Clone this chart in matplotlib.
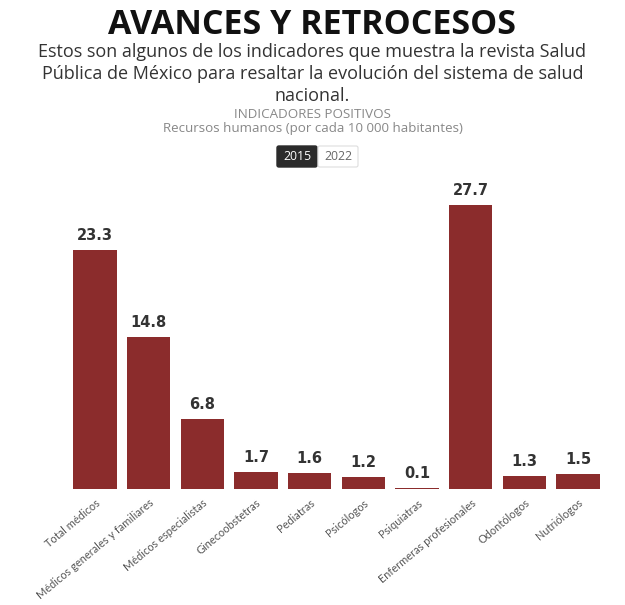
import matplotlib
matplotlib.use("Agg")
import matplotlib.pyplot as plt
from matplotlib.patches import FancyBboxPatch

categories = ["Total médicos", "Médicos generales y familiares", "Médicos especialistas",
              "Ginecoobstetras", "Pediatras", "Psicólogos", "Psiquiatras",
              "Enfermeras profesionales", "Odontólogos", "Nutriólogos"]
values = [23.3, 14.8, 6.8, 1.7, 1.6, 1.2, 0.1, 27.7, 1.3, 1.5]
value_labels = ["23.3", "14.8", "6.8", "1.7", "1.6", "1.2", "0.1", "27.7", "1.3", "1.5"]

title = "AVANCES Y RETROCESOS"
subtitle = ("Estos son algunos de los indicadores que muestra la revista Salud\n"
            "Pública de México para resaltar la evolución del sistema de salud\n"
            "nacional.")
chart_title = "INDICADORES POSITIVOS"
chart_sub = "Recursos humanos (por cada 10 000 habitantes)"
years = ["2015", "2022"]

W, H = 625, 605
fig = plt.figure(figsize=(W / 100, H / 100), dpi=100)
fig.patch.set_facecolor("white")

def fx(px):
    return px / W

def fy(py):
    return 1 - py / H

ax_left, ax_right, ax_bottom = 68, 605, 489
ymax = 30.0
ax_top = ax_bottom - ymax * 10.25
ax = fig.add_axes([fx(ax_left), fy(ax_bottom), fx(ax_right - ax_left), (ax_bottom - ax_top) / H])
x = list(range(len(categories)))
bars = ax.bar(x, values, width=0.81, color="#8B2C2C", edgecolor="none")
ax.set_xlim(-0.5, len(categories) - 0.5)
ax.set_ylim(0, ymax)
for s in ax.spines.values():
    s.set_visible(False)
ax.set_yticks([])
ax.set_xticks(x)
ax.set_xticklabels(categories, rotation=40, ha="right", rotation_mode="anchor",
                   fontsize=7.9, color="#555555", family="Lato")
ax.tick_params(axis="x", length=0, pad=6)
for xi, v, lab in zip(x, values, value_labels):
    ax.annotate(lab, (xi, v), xytext=(0, 5), textcoords="offset points",
                ha="center", va="bottom", fontsize=10.5, fontweight="bold",
                color="#333333", family="DejaVu Sans")

fig.text(0.5, fy(25), title, ha="center", va="center", fontsize=24.5,
         fontweight="bold", color="#111111", family="Open Sans")
fig.text(0.5, fy(74), subtitle, ha="center", va="center", fontsize=13,
         color="#333333", family="Open Sans", linespacing=1.3)
fig.text(0.5, fy(115), chart_title, ha="center", va="center", fontsize=9.6,
         color="#888888", family="Open Sans")
fig.text(0.5, fy(128), chart_sub, ha="center", va="center", fontsize=9.6,
         color="#888888", family="Open Sans")

# year buttons
b1 = FancyBboxPatch((fx(277), fy(167)), fx(40), 21 / H, boxstyle="round,pad=0,rounding_size=0.003",
                    transform=fig.transFigure, facecolor="#2b2b2b", edgecolor="#2b2b2b")
b2 = FancyBboxPatch((fx(318), fy(167)), fx(40), 21 / H, boxstyle="round,pad=0,rounding_size=0.003",
                    transform=fig.transFigure, facecolor="white", edgecolor="#dddddd", lw=0.8)
fig.patches.extend([b1, b2])
fig.text(fx(297), fy(156.5), years[0], ha="center", va="center", fontsize=8.8,
         color="white", family="Open Sans")
fig.text(fx(338), fy(156.5), years[1], ha="center", va="center", fontsize=8.8,
         color="#666666", family="Open Sans")

fig.savefig("out.png", dpi=100, facecolor="white")
